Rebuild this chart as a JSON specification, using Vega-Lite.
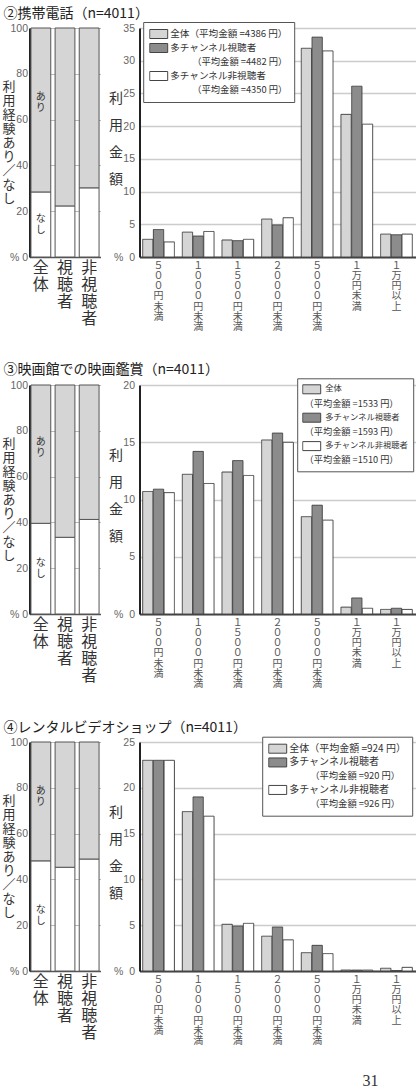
{
  "$schema": "https://vega.github.io/schema/vega-lite/v6.json",
  "padding": {"left": 1.5, "top": 7, "right": 0, "bottom": 0},
  "background": "#ffffff",
  "config": {
    "font": "Noto Sans CJK JP",
    "view": {"stroke": null},
    "title": {"font": "Noto Sans CJK JP"},
    "legend": {"labelFont": "Noto Sans CJK JP"}
  },
  "title": {"text": "31", "orient": "bottom", "anchor": "end", "font": "Liberation Serif", "fontSize": 16, "fontWeight": "normal", "color": "#333", "offset": 27, "dx": -37, "baseline": "top"},
  "bounds": "flush",
  "spacing": 357,
  "resolve": {"scale": {"color": "independent", "stroke": "independent", "strokeDash": "independent"}, "legend": {"color": "independent", "stroke": "independent", "strokeDash": "independent"}},
  "vconcat": [
    {
      "bounds": "flush",
      "spacing": 39,
      "resolve": {"scale": {"color": "independent", "stroke": "independent", "strokeDash": "independent"}, "legend": {"color": "independent", "stroke": "independent", "strokeDash": "independent"}},
      "hconcat": [
        {
          "width": 71, "height": 229,
          "title": {"text": "②携帯電話（n=4011）", "anchor": "start", "frame": "group", "dx": -26, "offset": -12, "fontSize": 14, "fontWeight": "normal", "color": "#222", "baseline": "bottom"},
          "data": {"values": [
            {"cat": "全体", "kind": "なし", "v": 28.4}, {"cat": "全体", "kind": "あり", "v": 71.6},
            {"cat": "視聴者", "kind": "なし", "v": 22.3}, {"cat": "視聴者", "kind": "あり", "v": 77.7},
            {"cat": "非視聴者", "kind": "なし", "v": 30.2}, {"cat": "非視聴者", "kind": "あり", "v": 69.8}
          ]},
          "layer": [
            {
              "mark": {"type": "bar", "stroke": "#555", "strokeWidth": 1},
              "encoding": {
                "x": {"field": "cat", "type": "nominal", "sort": ["全体", "視聴者", "非視聴者"], "scale": {"paddingInner": 0.18, "paddingOuter": 0.06},
                  "axis": {"title": null, "labelAngle": 0, "labelExpr": "split(datum.label, '')", "labelFont": "Noto Sans CJK JP", "labelFontSize": 16, "labelLineHeight": 17, "labelColor": "#333", "labelPadding": 2, "labelBaseline": "top", "ticks": false, "domainColor": "#555", "domainWidth": 1.5}},
                "y": {"field": "v", "type": "quantitative", "stack": "zero", "scale": {"domain": [0, 100]},
                  "axis": {"values": [0, 20, 40, 60, 80, 100], "labelExpr": "datum.value == 0 ? '% 0' : datum.label", "title": ["利", "用", "経", "験", "あ", "り", "／", "な", "し"], "titleAngle": 0, "titleX": -21, "titleY": 58.5, "titleAlign": "center", "titleBaseline": "middle", "titleFontSize": 13, "titleLineHeight": 14, "titleFontWeight": "normal", "titleColor": "#333", "titleFont": "Noto Sans CJK JP", "labelFont": "Liberation Sans", "labelFontSize": 10.5, "labelColor": "#666", "labelPadding": 2, "ticks": false, "grid": true, "gridColor": "#bbb", "gridWidth": 1, "domainColor": "#222", "domainWidth": 2}},
                "color": {"field": "kind", "type": "nominal", "scale": {"domain": ["なし", "あり"], "range": ["#ffffff", "#d5d5d5"]}, "legend": null},
                "order": {"field": "kind", "sort": "descending"}
              }
            },
            {
              "transform": [{"filter": "datum.cat == '全体' && datum.kind == 'なし'"}],
              "mark": {"type": "text", "fontSize": 10, "lineHeight": 11, "color": "#333", "baseline": "middle", "dy": -5.5},
              "encoding": {
                "x": {"field": "cat", "type": "nominal", "sort": ["全体", "視聴者", "非視聴者"]},
                "y": {"field": "v", "type": "quantitative", "scale": {"domain": [0, 200]}, "axis": null},
                "text": {"value": ["な", "し"]}
              }
            },
            {
              "transform": [{"filter": "datum.cat == '全体' && datum.kind == 'なし'"}],
              "mark": {"type": "text", "fontSize": 10, "lineHeight": 11, "color": "#333", "baseline": "middle", "dy": -5.5},
              "encoding": {
                "x": {"field": "cat", "type": "nominal", "sort": ["全体", "視聴者", "非視聴者"]},
                "y": {"field": "v", "type": "quantitative", "scale": {"domain": [-120, 100]}, "axis": null},
                "text": {"value": ["あ", "り"]}
              }
            }
          ],
          "resolve": {"scale": {"y": "independent"}}
        },
        {
          "width": 276, "height": 229,
          "data": {"values": [
            {"cat": "５００円未満", "grp": "全体", "v": 2.7}, {"cat": "１０００円未満", "grp": "全体", "v": 3.8}, {"cat": "１５００円未満", "grp": "全体", "v": 2.6}, {"cat": "２０００円未満", "grp": "全体", "v": 5.8}, {"cat": "５０００円未満", "grp": "全体", "v": 31.9}, {"cat": "１万円未満", "grp": "全体", "v": 21.8}, {"cat": "１万円以上", "grp": "全体", "v": 3.5},
            {"cat": "５００円未満", "grp": "多チャンネル視聴者", "v": 4.2}, {"cat": "１０００円未満", "grp": "多チャンネル視聴者", "v": 3.2}, {"cat": "１５００円未満", "grp": "多チャンネル視聴者", "v": 2.5}, {"cat": "２０００円未満", "grp": "多チャンネル視聴者", "v": 4.9}, {"cat": "５０００円未満", "grp": "多チャンネル視聴者", "v": 33.6}, {"cat": "１万円未満", "grp": "多チャンネル視聴者", "v": 26.1}, {"cat": "１万円以上", "grp": "多チャンネル視聴者", "v": 3.4},
            {"cat": "５００円未満", "grp": "多チャンネル非視聴者", "v": 2.3}, {"cat": "１０００円未満", "grp": "多チャンネル非視聴者", "v": 3.9}, {"cat": "１５００円未満", "grp": "多チャンネル非視聴者", "v": 2.7}, {"cat": "２０００円未満", "grp": "多チャンネル非視聴者", "v": 6.0}, {"cat": "５０００円未満", "grp": "多チャンネル非視聴者", "v": 31.5}, {"cat": "１万円未満", "grp": "多チャンネル非視聴者", "v": 20.3}, {"cat": "１万円以上", "grp": "多チャンネル非視聴者", "v": 3.5}
          ]},
          "mark": {"type": "bar", "strokeWidth": 1},
          "encoding": {
            "x": {"field": "cat", "type": "nominal", "sort": ["５００円未満", "１０００円未満", "１５００円未満", "２０００円未満", "５０００円未満", "１万円未満", "１万円以上"], "scale": {"paddingInner": 0.2, "paddingOuter": 0.08},
              "axis": {"title": null, "labelAngle": 0, "labelExpr": "split(datum.label, '')", "labelFont": "Noto Sans CJK JP", "labelFontSize": 10, "labelLineHeight": 10.3, "labelColor": "#555", "labelPadding": 3, "labelBaseline": "top", "ticks": false, "domainColor": "#444", "domainWidth": 2}},
            "xOffset": {"field": "grp", "type": "nominal", "sort": ["全体", "多チャンネル視聴者", "多チャンネル非視聴者"], "scale": {"paddingInner": 0.04}},
            "y": {"field": "v", "type": "quantitative", "scale": {"domain": [0, 35]},
              "axis": {"values": [0, 5, 10, 15, 20, 25, 30, 35], "labelExpr": "datum.value == 0 ? '% \u00a00' : datum.label", "title": ["利", "用", "金", "額"], "titleAngle": 0, "titleX": -24, "titleY": 70.5, "titleAlign": "center", "titleBaseline": "middle", "titleFontSize": 14, "titleLineHeight": 27, "titleFontWeight": "normal", "titleColor": "#333", "titleFont": "Noto Sans CJK JP", "labelFont": "Liberation Sans", "labelFontSize": 10.5, "labelColor": "#666", "labelPadding": 5, "ticks": false, "grid": true, "gridColor": "#ccc", "gridWidth": 1.5, "domainColor": "#222", "domainWidth": 2}},
            "color": {"field": "grp", "type": "nominal",
              "scale": {"domain": ["全体", "多チャンネル視聴者", "m1", "多チャンネル非視聴者", "m2"], "range": ["#d5d5d5", "#8c8c8c", "transparent", "#ffffff", "transparent"]},
              "legend": {"orient": "none", "legendX": 3.7, "legendY": -6, "title": null, "direction": "vertical", "symbolType": "M-1,-0.5H1V0.5H-1Z", "symbolSize": 324, "symbolStrokeWidth": 1, "clipHeight": 12, "rowPadding": 2, "padding": 6, "strokeColor": "#555", "fillColor": "#ffffff", "labelFontSize": 9.6, "labelColor": "#333", "labelOffset": 2, "labelLimit": 400,
                "labelExpr": "datum.value == '全体' ? '全体（平均金額 =4386 円）' : (datum.value == 'm1' || datum.value == 'm2') ? '' : datum.label"}},
            "stroke": {"field": "grp", "type": "nominal",
              "scale": {"domain": ["全体", "多チャンネル視聴者", "m1", "多チャンネル非視聴者", "m2"], "range": ["#444444", "#444444", "transparent", "#444444", "transparent"]},
              "legend": {"orient": "none", "legendX": 3.7, "legendY": -6, "title": null, "direction": "vertical", "symbolType": "M-1,-0.5H1V0.5H-1Z", "symbolSize": 324, "symbolStrokeWidth": 1, "clipHeight": 12, "rowPadding": 2, "padding": 6, "strokeColor": "#555", "fillColor": "#ffffff", "labelFontSize": 9.6, "labelColor": "#333", "labelOffset": 2, "labelLimit": 400,
                "labelExpr": "datum.value == '全体' ? '全体（平均金額 =4386 円）' : (datum.value == 'm1' || datum.value == 'm2') ? '' : datum.label"}},
            "strokeDash": {"field": "grp", "type": "nominal",
              "scale": {"domain": ["全体", "多チャンネル視聴者", "m1", "多チャンネル非視聴者", "m2", "zz"], "range": [[1, 0], [1, 0], [1, 0], [1, 0], [1, 0], [1, 0]]},
              "legend": {"orient": "none", "legendX": 24.7, "legendY": -6, "title": null, "direction": "vertical", "symbolType": "M-1,-0.5H1V0.5H-1Z", "symbolSize": 324, "symbolOpacity": 0, "clipHeight": 12, "rowPadding": 2, "padding": 6, "strokeColor": "transparent", "fillColor": "transparent", "labelFontSize": 9.3, "labelColor": "#333", "labelOffset": 2, "labelLimit": 400,
                "labelExpr": "datum.value == 'm1' ? '（平均金額 =4482 円）' : datum.value == 'm2' ? '（平均金額 =4350 円）' : ''"}}
          }
        }
      ]
    },
    {
      "bounds": "flush",
      "spacing": 39,
      "resolve": {"scale": {"color": "independent", "stroke": "independent", "strokeDash": "independent"}, "legend": {"color": "independent", "stroke": "independent", "strokeDash": "independent"}},
      "hconcat": [
        {
          "width": 71, "height": 229,
          "title": {"text": "③映画館での映画鑑賞（n=4011）", "anchor": "start", "frame": "group", "dx": -26, "offset": -10.8, "fontSize": 14, "fontWeight": "normal", "color": "#222", "baseline": "bottom"},
          "data": {"values": [
            {"cat": "全体", "kind": "なし", "v": 39.6}, {"cat": "全体", "kind": "あり", "v": 60.4},
            {"cat": "視聴者", "kind": "なし", "v": 33.5}, {"cat": "視聴者", "kind": "あり", "v": 66.5},
            {"cat": "非視聴者", "kind": "なし", "v": 41.3}, {"cat": "非視聴者", "kind": "あり", "v": 58.7}
          ]},
          "layer": [
            {
              "mark": {"type": "bar", "stroke": "#555", "strokeWidth": 1},
              "encoding": {
                "x": {"field": "cat", "type": "nominal", "sort": ["全体", "視聴者", "非視聴者"], "scale": {"paddingInner": 0.18, "paddingOuter": 0.06},
                  "axis": {"title": null, "labelAngle": 0, "labelExpr": "split(datum.label, '')", "labelFont": "Noto Sans CJK JP", "labelFontSize": 16, "labelLineHeight": 17, "labelColor": "#333", "labelPadding": 2, "labelBaseline": "top", "ticks": false, "domainColor": "#555", "domainWidth": 1.5}},
                "y": {"field": "v", "type": "quantitative", "stack": "zero", "scale": {"domain": [0, 100]},
                  "axis": {"values": [0, 20, 40, 60, 80, 100], "labelExpr": "datum.value == 0 ? '% 0' : datum.label", "title": ["利", "用", "経", "験", "あ", "り", "／", "な", "し"], "titleAngle": 0, "titleX": -21, "titleY": 58.5, "titleAlign": "center", "titleBaseline": "middle", "titleFontSize": 13, "titleLineHeight": 14, "titleFontWeight": "normal", "titleColor": "#333", "titleFont": "Noto Sans CJK JP", "labelFont": "Liberation Sans", "labelFontSize": 10.5, "labelColor": "#666", "labelPadding": 2, "ticks": false, "grid": true, "gridColor": "#bbb", "gridWidth": 1, "domainColor": "#222", "domainWidth": 2}},
                "color": {"field": "kind", "type": "nominal", "scale": {"domain": ["なし", "あり"], "range": ["#ffffff", "#d5d5d5"]}, "legend": null},
                "order": {"field": "kind", "sort": "descending"}
              }
            },
            {
              "transform": [{"filter": "datum.cat == '全体' && datum.kind == 'なし'"}],
              "mark": {"type": "text", "fontSize": 10, "lineHeight": 11, "color": "#333", "baseline": "middle", "dy": -5.5},
              "encoding": {
                "x": {"field": "cat", "type": "nominal", "sort": ["全体", "視聴者", "非視聴者"]},
                "y": {"field": "v", "type": "quantitative", "scale": {"domain": [0, 200]}, "axis": null},
                "text": {"value": ["な", "し"]}
              }
            },
            {
              "transform": [{"filter": "datum.cat == '全体' && datum.kind == 'なし'"}],
              "mark": {"type": "text", "fontSize": 10, "lineHeight": 11, "color": "#333", "baseline": "middle", "dy": -5.5},
              "encoding": {
                "x": {"field": "cat", "type": "nominal", "sort": ["全体", "視聴者", "非視聴者"]},
                "y": {"field": "v", "type": "quantitative", "scale": {"domain": [-120, 100]}, "axis": null},
                "text": {"value": ["あ", "り"]}
              }
            }
          ],
          "resolve": {"scale": {"y": "independent"}}
        },
        {
          "width": 276, "height": 229,
          "data": {"values": [
            {"cat": "５００円未満", "grp": "全体", "v": 10.7}, {"cat": "１０００円未満", "grp": "全体", "v": 12.2}, {"cat": "１５００円未満", "grp": "全体", "v": 12.4}, {"cat": "２０００円未満", "grp": "全体", "v": 15.2}, {"cat": "５０００円未満", "grp": "全体", "v": 8.5}, {"cat": "１万円未満", "grp": "全体", "v": 0.6}, {"cat": "１万円以上", "grp": "全体", "v": 0.4},
            {"cat": "５００円未満", "grp": "多チャンネル視聴者", "v": 10.9}, {"cat": "１０００円未満", "grp": "多チャンネル視聴者", "v": 14.2}, {"cat": "１５００円未満", "grp": "多チャンネル視聴者", "v": 13.4}, {"cat": "２０００円未満", "grp": "多チャンネル視聴者", "v": 15.8}, {"cat": "５０００円未満", "grp": "多チャンネル視聴者", "v": 9.5}, {"cat": "１万円未満", "grp": "多チャンネル視聴者", "v": 1.4}, {"cat": "１万円以上", "grp": "多チャンネル視聴者", "v": 0.5},
            {"cat": "５００円未満", "grp": "多チャンネル非視聴者", "v": 10.6}, {"cat": "１０００円未満", "grp": "多チャンネル非視聴者", "v": 11.4}, {"cat": "１５００円未満", "grp": "多チャンネル非視聴者", "v": 12.1}, {"cat": "２０００円未満", "grp": "多チャンネル非視聴者", "v": 15.0}, {"cat": "５０００円未満", "grp": "多チャンネル非視聴者", "v": 8.2}, {"cat": "１万円未満", "grp": "多チャンネル非視聴者", "v": 0.5}, {"cat": "１万円以上", "grp": "多チャンネル非視聴者", "v": 0.4}
          ]},
          "mark": {"type": "bar", "strokeWidth": 1},
          "encoding": {
            "x": {"field": "cat", "type": "nominal", "sort": ["５００円未満", "１０００円未満", "１５００円未満", "２０００円未満", "５０００円未満", "１万円未満", "１万円以上"], "scale": {"paddingInner": 0.2, "paddingOuter": 0.08},
              "axis": {"title": null, "labelAngle": 0, "labelExpr": "split(datum.label, '')", "labelFont": "Noto Sans CJK JP", "labelFontSize": 10, "labelLineHeight": 10.3, "labelColor": "#555", "labelPadding": 3, "labelBaseline": "top", "ticks": false, "domainColor": "#444", "domainWidth": 2}},
            "xOffset": {"field": "grp", "type": "nominal", "sort": ["全体", "多チャンネル視聴者", "多チャンネル非視聴者"], "scale": {"paddingInner": 0.04}},
            "y": {"field": "v", "type": "quantitative", "scale": {"domain": [0, 20]},
              "axis": {"values": [0, 5, 10, 15, 20], "labelExpr": "datum.value == 0 ? '% \u00a00' : datum.label", "title": ["利", "用", "金", "額"], "titleAngle": 0, "titleX": -24, "titleY": 70.5, "titleAlign": "center", "titleBaseline": "middle", "titleFontSize": 14, "titleLineHeight": 27, "titleFontWeight": "normal", "titleColor": "#333", "titleFont": "Noto Sans CJK JP", "labelFont": "Liberation Sans", "labelFontSize": 10.5, "labelColor": "#666", "labelPadding": 5, "ticks": false, "grid": true, "gridColor": "#ccc", "gridWidth": 1.5, "domainColor": "#222", "domainWidth": 2}},
            "color": {"field": "grp", "type": "nominal",
              "scale": {"domain": ["全体", "m0", "多チャンネル視聴者", "m1", "多チャンネル非視聴者", "m2"], "range": ["#d5d5d5", "transparent", "#8c8c8c", "transparent", "#ffffff", "transparent"]},
              "legend": {"orient": "none", "legendX": 157.7, "legendY": -6.7, "title": null, "direction": "vertical", "symbolType": "M-1,-0.5H1V0.5H-1Z", "symbolSize": 324, "symbolStrokeWidth": 1, "clipHeight": 12, "rowPadding": 2.2, "padding": 5, "strokeColor": "#555", "fillColor": "#ffffff", "labelFontSize": 8.3, "labelColor": "#333", "labelOffset": 4, "labelLimit": 400,
                "labelExpr": "(datum.value == 'm0' || datum.value == 'm1' || datum.value == 'm2') ? '' : datum.label"}},
            "stroke": {"field": "grp", "type": "nominal",
              "scale": {"domain": ["全体", "m0", "多チャンネル視聴者", "m1", "多チャンネル非視聴者", "m2"], "range": ["#444444", "transparent", "#444444", "transparent", "#444444", "transparent"]},
              "legend": {"orient": "none", "legendX": 157.7, "legendY": -6.7, "title": null, "direction": "vertical", "symbolType": "M-1,-0.5H1V0.5H-1Z", "symbolSize": 324, "symbolStrokeWidth": 1, "clipHeight": 12, "rowPadding": 2.2, "padding": 5, "strokeColor": "#555", "fillColor": "#ffffff", "labelFontSize": 8.3, "labelColor": "#333", "labelOffset": 4, "labelLimit": 400,
                "labelExpr": "(datum.value == 'm0' || datum.value == 'm1' || datum.value == 'm2') ? '' : datum.label"}},
            "strokeDash": {"field": "grp", "type": "nominal",
              "scale": {"domain": ["全体", "m0", "多チャンネル視聴者", "m1", "多チャンネル非視聴者", "m2", "zz"], "range": [[1, 0], [1, 0], [1, 0], [1, 0], [1, 0], [1, 0], [1, 0]]},
              "legend": {"orient": "none", "legendX": 136.1, "legendY": -6.7, "title": null, "direction": "vertical", "symbolType": "M-1,-0.5H1V0.5H-1Z", "symbolSize": 324, "symbolOpacity": 0, "clipHeight": 12, "rowPadding": 2.2, "padding": 5, "strokeColor": "transparent", "fillColor": "transparent", "labelFontSize": 9.2, "labelColor": "#333", "labelOffset": 4, "labelLimit": 400,
                "labelExpr": "datum.value == 'm0' ? '（平均金額 =1533 円）' : datum.value == 'm1' ? '（平均金額 =1593 円）' : datum.value == 'm2' ? '（平均金額 =1510 円）' : ''"}}
          }
        }
      ]
    },
    {
      "bounds": "flush",
      "spacing": 39,
      "resolve": {"scale": {"color": "independent", "stroke": "independent", "strokeDash": "independent"}, "legend": {"color": "independent", "stroke": "independent", "strokeDash": "independent"}},
      "hconcat": [
        {
          "width": 71, "height": 229,
          "title": {"text": "④レンタルビデオショップ（n=4011）", "anchor": "start", "frame": "group", "dx": -26, "offset": -11.5, "fontSize": 14, "fontWeight": "normal", "color": "#222", "baseline": "bottom"},
          "data": {"values": [
            {"cat": "全体", "kind": "なし", "v": 48.1}, {"cat": "全体", "kind": "あり", "v": 51.9},
            {"cat": "視聴者", "kind": "なし", "v": 45.3}, {"cat": "視聴者", "kind": "あり", "v": 54.7},
            {"cat": "非視聴者", "kind": "なし", "v": 48.9}, {"cat": "非視聴者", "kind": "あり", "v": 51.1}
          ]},
          "layer": [
            {
              "mark": {"type": "bar", "stroke": "#555", "strokeWidth": 1},
              "encoding": {
                "x": {"field": "cat", "type": "nominal", "sort": ["全体", "視聴者", "非視聴者"], "scale": {"paddingInner": 0.18, "paddingOuter": 0.06},
                  "axis": {"title": null, "labelAngle": 0, "labelExpr": "split(datum.label, '')", "labelFont": "Noto Sans CJK JP", "labelFontSize": 16, "labelLineHeight": 17, "labelColor": "#333", "labelPadding": 2, "labelBaseline": "top", "ticks": false, "domainColor": "#555", "domainWidth": 1.5}},
                "y": {"field": "v", "type": "quantitative", "stack": "zero", "scale": {"domain": [0, 100]},
                  "axis": {"values": [0, 20, 40, 60, 80, 100], "labelExpr": "datum.value == 0 ? '% 0' : datum.label", "title": ["利", "用", "経", "験", "あ", "り", "／", "な", "し"], "titleAngle": 0, "titleX": -21, "titleY": 58.5, "titleAlign": "center", "titleBaseline": "middle", "titleFontSize": 13, "titleLineHeight": 14, "titleFontWeight": "normal", "titleColor": "#333", "titleFont": "Noto Sans CJK JP", "labelFont": "Liberation Sans", "labelFontSize": 10.5, "labelColor": "#666", "labelPadding": 2, "ticks": false, "grid": true, "gridColor": "#bbb", "gridWidth": 1, "domainColor": "#222", "domainWidth": 2}},
                "color": {"field": "kind", "type": "nominal", "scale": {"domain": ["なし", "あり"], "range": ["#ffffff", "#d5d5d5"]}, "legend": null},
                "order": {"field": "kind", "sort": "descending"}
              }
            },
            {
              "transform": [{"filter": "datum.cat == '全体' && datum.kind == 'なし'"}],
              "mark": {"type": "text", "fontSize": 10, "lineHeight": 11, "color": "#333", "baseline": "middle", "dy": -5.5},
              "encoding": {
                "x": {"field": "cat", "type": "nominal", "sort": ["全体", "視聴者", "非視聴者"]},
                "y": {"field": "v", "type": "quantitative", "scale": {"domain": [0, 200]}, "axis": null},
                "text": {"value": ["な", "し"]}
              }
            },
            {
              "transform": [{"filter": "datum.cat == '全体' && datum.kind == 'なし'"}],
              "mark": {"type": "text", "fontSize": 10, "lineHeight": 11, "color": "#333", "baseline": "middle", "dy": -5.5},
              "encoding": {
                "x": {"field": "cat", "type": "nominal", "sort": ["全体", "視聴者", "非視聴者"]},
                "y": {"field": "v", "type": "quantitative", "scale": {"domain": [-120, 100]}, "axis": null},
                "text": {"value": ["あ", "り"]}
              }
            }
          ],
          "resolve": {"scale": {"y": "independent"}}
        },
        {
          "width": 276, "height": 229,
          "data": {"values": [
            {"cat": "５００円未満", "grp": "全体", "v": 23.0}, {"cat": "１０００円未満", "grp": "全体", "v": 17.4}, {"cat": "１５００円未満", "grp": "全体", "v": 5.1}, {"cat": "２０００円未満", "grp": "全体", "v": 3.8}, {"cat": "５０００円未満", "grp": "全体", "v": 2.0}, {"cat": "１万円未満", "grp": "全体", "v": 0.1}, {"cat": "１万円以上", "grp": "全体", "v": 0.3},
            {"cat": "５００円未満", "grp": "多チャンネル視聴者", "v": 23.0}, {"cat": "１０００円未満", "grp": "多チャンネル視聴者", "v": 19.0}, {"cat": "１５００円未満", "grp": "多チャンネル視聴者", "v": 4.9}, {"cat": "２０００円未満", "grp": "多チャンネル視聴者", "v": 4.8}, {"cat": "５０００円未満", "grp": "多チャンネル視聴者", "v": 2.8}, {"cat": "１万円未満", "grp": "多チャンネル視聴者", "v": 0.1}, {"cat": "１万円以上", "grp": "多チャンネル視聴者", "v": 0.05},
            {"cat": "５００円未満", "grp": "多チャンネル非視聴者", "v": 23.0}, {"cat": "１０００円未満", "grp": "多チャンネル非視聴者", "v": 16.9}, {"cat": "１５００円未満", "grp": "多チャンネル非視聴者", "v": 5.2}, {"cat": "２０００円未満", "grp": "多チャンネル非視聴者", "v": 3.4}, {"cat": "５０００円未満", "grp": "多チャンネル非視聴者", "v": 1.9}, {"cat": "１万円未満", "grp": "多チャンネル非視聴者", "v": 0.1}, {"cat": "１万円以上", "grp": "多チャンネル非視聴者", "v": 0.4}
          ]},
          "mark": {"type": "bar", "strokeWidth": 1},
          "encoding": {
            "x": {"field": "cat", "type": "nominal", "sort": ["５００円未満", "１０００円未満", "１５００円未満", "２０００円未満", "５０００円未満", "１万円未満", "１万円以上"], "scale": {"paddingInner": 0.2, "paddingOuter": 0.08},
              "axis": {"title": null, "labelAngle": 0, "labelExpr": "split(datum.label, '')", "labelFont": "Noto Sans CJK JP", "labelFontSize": 10, "labelLineHeight": 10.3, "labelColor": "#555", "labelPadding": 3, "labelBaseline": "top", "ticks": false, "domainColor": "#444", "domainWidth": 2}},
            "xOffset": {"field": "grp", "type": "nominal", "sort": ["全体", "多チャンネル視聴者", "多チャンネル非視聴者"], "scale": {"paddingInner": 0.04}},
            "y": {"field": "v", "type": "quantitative", "scale": {"domain": [0, 25]},
              "axis": {"values": [0, 5, 10, 15, 20, 25], "labelExpr": "datum.value == 0 ? '% \u00a00' : datum.label", "title": ["利", "用", "金", "額"], "titleAngle": 0, "titleX": -24, "titleY": 70.5, "titleAlign": "center", "titleBaseline": "middle", "titleFontSize": 14, "titleLineHeight": 27, "titleFontWeight": "normal", "titleColor": "#333", "titleFont": "Noto Sans CJK JP", "labelFont": "Liberation Sans", "labelFontSize": 10.5, "labelColor": "#666", "labelPadding": 5, "ticks": false, "grid": true, "gridColor": "#ccc", "gridWidth": 1.5, "domainColor": "#222", "domainWidth": 2}},
            "color": {"field": "grp", "type": "nominal",
              "scale": {"domain": ["全体", "多チャンネル視聴者", "m1", "多チャンネル非視聴者", "m2"], "range": ["#d5d5d5", "#8c8c8c", "transparent", "#ffffff", "transparent"]},
              "legend": {"orient": "none", "legendX": 122.7, "legendY": -5.3, "title": null, "direction": "vertical", "symbolType": "M-1,-0.5H1V0.5H-1Z", "symbolSize": 324, "symbolStrokeWidth": 1, "clipHeight": 12, "rowPadding": 1.75, "padding": 6, "strokeColor": "#555", "fillColor": "#ffffff", "labelFontSize": 10, "labelColor": "#333", "labelOffset": 2, "labelLimit": 400,
                "labelExpr": "datum.value == '全体' ? '全体（平均金額 =924 円）' : (datum.value == 'm1' || datum.value == 'm2') ? '' : datum.label"}},
            "stroke": {"field": "grp", "type": "nominal",
              "scale": {"domain": ["全体", "多チャンネル視聴者", "m1", "多チャンネル非視聴者", "m2"], "range": ["#444444", "#444444", "transparent", "#444444", "transparent"]},
              "legend": {"orient": "none", "legendX": 122.7, "legendY": -5.3, "title": null, "direction": "vertical", "symbolType": "M-1,-0.5H1V0.5H-1Z", "symbolSize": 324, "symbolStrokeWidth": 1, "clipHeight": 12, "rowPadding": 1.75, "padding": 6, "strokeColor": "#555", "fillColor": "#ffffff", "labelFontSize": 10, "labelColor": "#333", "labelOffset": 2, "labelLimit": 400,
                "labelExpr": "datum.value == '全体' ? '全体（平均金額 =924 円）' : (datum.value == 'm1' || datum.value == 'm2') ? '' : datum.label"}},
            "strokeDash": {"field": "grp", "type": "nominal",
              "scale": {"domain": ["全体", "多チャンネル視聴者", "m1", "多チャンネル非視聴者", "m2", "zz"], "range": [[1, 0], [1, 0], [1, 0], [1, 0], [1, 0], [1, 0]]},
              "legend": {"orient": "none", "legendX": 142.7, "legendY": -5.3, "title": null, "direction": "vertical", "symbolType": "M-1,-0.5H1V0.5H-1Z", "symbolSize": 324, "symbolOpacity": 0, "clipHeight": 12, "rowPadding": 1.75, "padding": 6, "strokeColor": "transparent", "fillColor": "transparent", "labelFontSize": 9.3, "labelColor": "#333", "labelOffset": 2, "labelLimit": 400,
                "labelExpr": "datum.value == 'm1' ? '（平均金額 =920 円）' : datum.value == 'm2' ? '（平均金額 =926 円）' : ''"}}
          }
        }
      ]
    }
  ]
}
